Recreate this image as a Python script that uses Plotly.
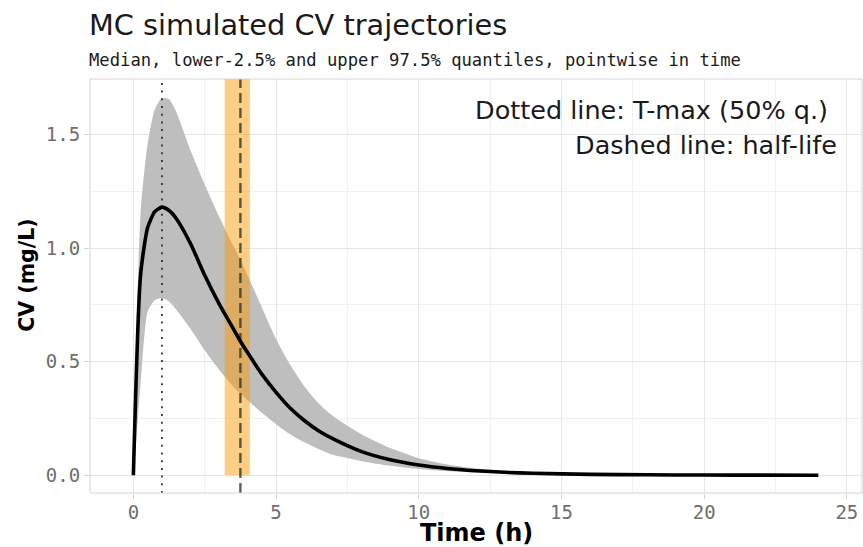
import plotly.graph_objects as go

# Simulated concentration summary (pointwise over time)
time_h = [0, 0.25, 0.5, 0.75, 1.0, 1.25, 1.5, 2.0, 2.5, 3.0, 3.5, 3.75, 4.0, 4.5,
          5.0, 5.5, 6.0, 6.5, 7.0, 8.0, 9.0, 10.0, 11.0, 12.0, 13.0, 14.0, 16.0,
          18.0, 20.0, 22.0, 24.0]
cv_median = [0, 0.88, 1.09, 1.16, 1.18, 1.165, 1.13, 1.02, 0.88, 0.755, 0.645, 0.59,
             0.54, 0.445, 0.365, 0.295, 0.24, 0.195, 0.16, 0.104, 0.068, 0.045, 0.03,
             0.02, 0.013, 0.009, 0.004, 0.002, 0.001, 0.0006, 0.0003]
cv_lower = [0, 0.40, 0.72, 0.77, 0.78, 0.765, 0.73, 0.645, 0.55, 0.465, 0.39, 0.36,
            0.33, 0.275, 0.225, 0.18, 0.145, 0.115, 0.09, 0.062, 0.042, 0.028, 0.018,
            0.012, 0.008, 0.005, 0.002, 0.001, 0.0005, 0.0003, 0.0001]
cv_upper = [0, 1.15, 1.46, 1.61, 1.66, 1.655, 1.60, 1.43, 1.28, 1.14, 1.01, 0.95,
            0.88, 0.74, 0.60, 0.485, 0.39, 0.315, 0.26, 0.18, 0.12, 0.075, 0.047,
            0.03, 0.019, 0.012, 0.006, 0.003, 0.0015, 0.0008, 0.0005]

t_max = 1.0            # median T-max (h)
half_life = 3.75       # median half-life (h)
half_life_lo = 3.2     # half-life 2.5% quantile
half_life_hi = 4.08    # half-life 97.5% quantile

x_ticks = [0, 5, 10, 15, 20, 25]
y_ticks = [0.0, 0.5, 1.0, 1.5]

x_range = [-1.52, 25.53]
y_range = [-0.078, 1.744]

fig = go.Figure()

# 95% band
fig.add_trace(go.Scatter(x=time_h + time_h[::-1], y=cv_upper + cv_lower[::-1],
                         fill="toself", fillcolor="#bebebe",
                         line=dict(width=0, shape="spline", smoothing=0.6),
                         mode="lines", hoverinfo="skip", showlegend=False))

# half-life interval
fig.add_trace(go.Scatter(
    x=[half_life_lo, half_life_hi, half_life_hi, half_life_lo, half_life_lo],
    y=[0, 0, y_range[1], y_range[1], 0],
    fill="toself", fillcolor="rgba(255,153,0,0.48)", line=dict(width=0),
    mode="lines", hoverinfo="skip", showlegend=False))

# T-max (dotted) and half-life (dashed)
fig.add_trace(go.Scatter(x=[t_max, t_max], y=y_range, mode="lines",
                         line=dict(color="#333333", width=1.8, dash="2px,5.7px"),
                         hoverinfo="skip", showlegend=False))
fig.add_trace(go.Scatter(x=[half_life, half_life], y=y_range, mode="lines",
                         line=dict(color="rgba(40,40,40,0.75)", width=2.4, dash="10px,5px"),
                         hoverinfo="skip", showlegend=False))

# median trajectory
fig.add_trace(go.Scatter(x=time_h, y=cv_median, mode="lines",
                         line=dict(color="black", width=3.6, shape="spline", smoothing=0.6),
                         hoverinfo="skip", showlegend=False))

tick_font = dict(family="DejaVu Sans Mono", size=19, color="#6e6e6e")
grid_major = "#e6e6e6"
grid_minor = "#f1f1f1"

fig.update_xaxes(range=x_range, tickvals=x_ticks, ticks="outside", ticklen=5,
                 tickcolor="#d4d4d4", tickfont=tick_font, ticklabelstandoff=-3,
                 showgrid=True, gridcolor=grid_major, gridwidth=1, zeroline=False,
                 showline=False,
                 minor=dict(dtick=2.5, tick0=2.5, showgrid=True, gridcolor=grid_minor,
                            gridwidth=1, ticks=""),
                 fixedrange=True)
fig.update_yaxes(range=y_range, tickvals=y_ticks, tickformat=".1f", ticks="outside",
                 ticklen=5, tickcolor="#d4d4d4", tickfont=tick_font, showgrid=True,
                 gridcolor=grid_major, gridwidth=1, zeroline=False, showline=False,
                 minor=dict(dtick=0.25, tick0=0.25, showgrid=True, gridcolor=grid_minor,
                            gridwidth=1, ticks=""),
                 fixedrange=True)

# panel border
fig.add_shape(type="rect", xref="paper", yref="paper", x0=0, x1=1, y0=0, y1=1,
              line=dict(color="#d4d4d4", width=1), layer="above")

text_font = "DejaVu Sans"
annotations = [
    dict(text="MC simulated CV trajectories", x=-0.004, y=1.13, xanchor="left",
         yanchor="middle", font=dict(family=text_font, size=28.8, color="#1a1a1a")),
    dict(text="Median, lower-2.5% and upper 97.5% quantiles, pointwise in time",
         x=-0.004, y=1.045, xanchor="left", yanchor="middle",
         font=dict(family="DejaVu Sans Mono", size=17.2, color="#1a1a1a")),
    dict(text="<b>Time (h)</b>", x=0.5, y=-0.096, xanchor="center", yanchor="middle",
         font=dict(family=text_font, size=24, color="black")),
    dict(text="<b>CV (mg/L)</b>", x=-0.0815, y=0.525, xanchor="center", yanchor="middle",
         textangle=-90, font=dict(family=text_font, size=20.5, color="black")),
]
for a in annotations:
    a.update(xref="paper", yref="paper", showarrow=False)
    fig.add_annotation(**a)

# notes in data coordinates
notes = [("Dotted line: T-max (50% q.)", 24.42, 1.607),
         ("Dashed line: half-life", 24.72, 1.453)]
for txt, nx, ny in notes:
    fig.add_annotation(text=txt, x=nx, y=ny, xref="x", yref="y", xanchor="right",
                       yanchor="middle", showarrow=False,
                       font=dict(family=text_font, size=25.5, color="#1a1a1a"))

fig.update_layout(width=863, height=547, margin=dict(l=90, r=1, t=79, b=54),
                  paper_bgcolor="white", plot_bgcolor="white", showlegend=False)

fig.write_html("out.html")
